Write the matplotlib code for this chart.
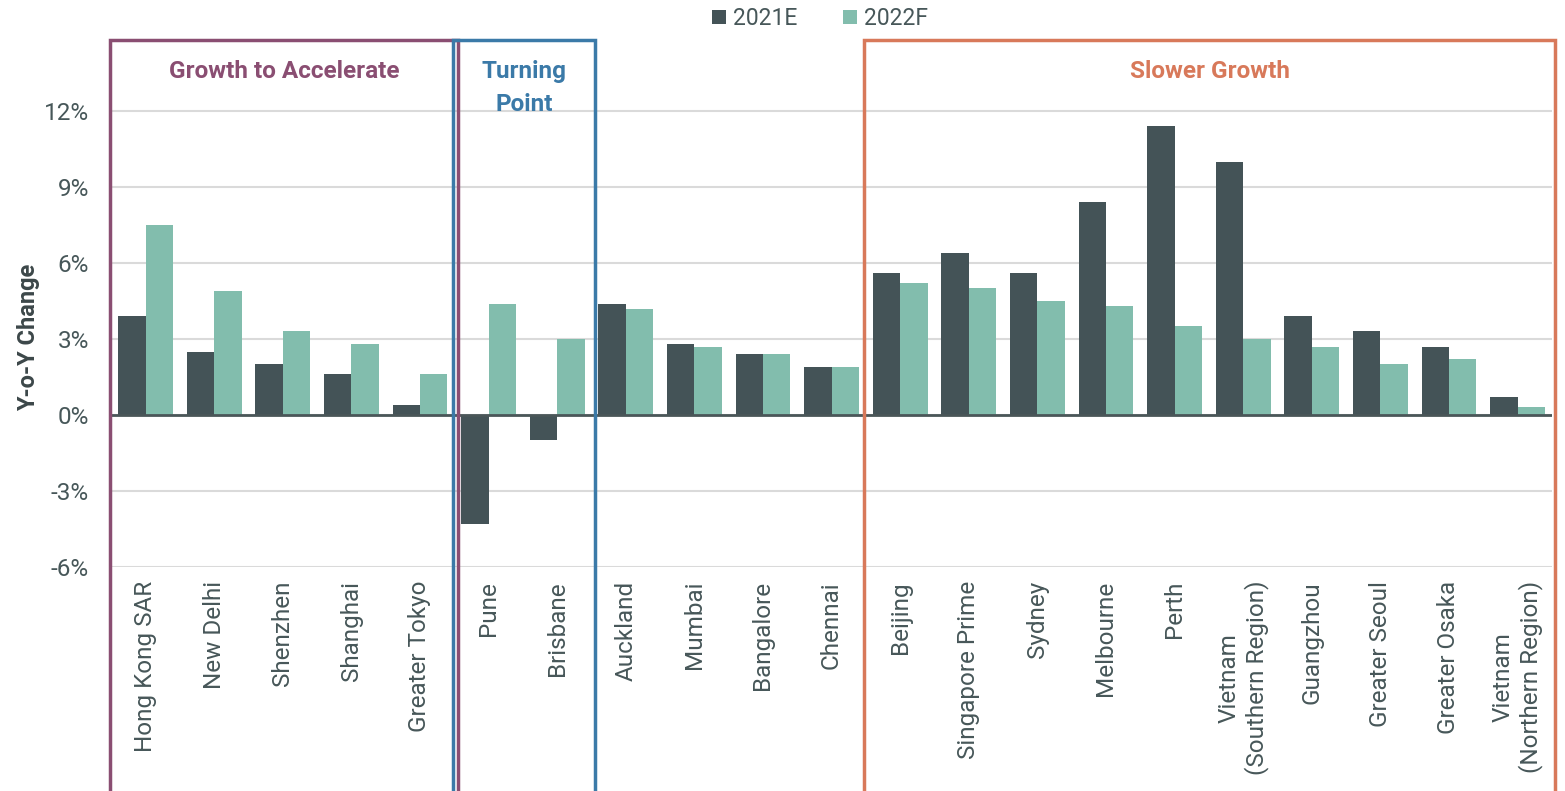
import numpy as np
import matplotlib.pyplot as plt
from matplotlib.patches import Rectangle
from matplotlib.transforms import blended_transform_factory

plt.rcParams['font.family'] = ['Roboto', 'DejaVu Sans']

markets = ["Hong Kong SAR", "New Delhi", "Shenzhen", "Shanghai", "Greater Tokyo",
           "Pune", "Brisbane",
           "Auckland", "Mumbai", "Bangalore", "Chennai",
           "Beijing", "Singapore Prime", "Sydney", "Melbourne", "Perth",
           "Vietnam\n(Southern Region)", "Guangzhou", "Greater Seoul",
           "Greater Osaka", "Vietnam\n(Northern Region)"]
y2021e = [3.9, 2.5, 2.0, 1.6, 0.4,
          -4.3, -1.0,
          4.4, 2.8, 2.4, 1.9,
          5.6, 6.4, 5.6, 8.4, 11.4, 10.0, 3.9, 3.3, 2.7, 0.7]
y2022f = [7.5, 4.9, 3.3, 2.8, 1.6,
          4.4, 3.0,
          4.2, 2.7, 2.4, 1.9,
          5.2, 5.0, 4.5, 4.3, 3.5, 3.0, 2.7, 2.0, 2.2, 0.3]
series = ["2021E", "2022F"]

# groups: (title, first index, last index, colour)
groups = [("Growth to Accelerate", 0, 4, "#8A4E72"),
          ("Turning\nPoint", 5, 6, "#3B7AA8"),
          ("Slower Growth", 11, 20, "#D8795A")]

dark = "#445357"
light = "#82BDAD"
txt = "#475759"

fig = plt.figure(figsize=(15.65, 7.91), dpi=100)
ax = fig.add_axes([0.0711, 0.2832, 0.9205, 0.6662])

x = np.arange(len(markets))
w = 0.4
ax.bar(x - w / 2, y2021e, w, color=dark, label=series[0], zorder=3)
ax.bar(x + w / 2, y2022f, w, color=light, label=series[1], zorder=3)

ax.set_xlim(-0.5, len(markets) - 0.5)
ax.set_ylim(-6, 14.8)
ax.set_yticks([-6, -3, 0, 3, 6, 9, 12])
ax.set_yticklabels([f"{v}%" for v in [-6, -3, 0, 3, 6, 9, 12]])
ax.set_xticks(x)
ax.set_xticklabels(markets, rotation=90, ha="center", va="top", multialignment="center")
ax.tick_params(axis="both", length=0, labelsize=17.5, colors=txt)
ax.tick_params(axis="y", pad=16)
ax.tick_params(axis="x", pad=10)

ax.grid(axis="y", color="#DADADA", linewidth=1.5, zorder=0)
ax.axhline(0, color="#4A5658", linewidth=2, zorder=4)
for s in ax.spines.values():
    s.set_visible(False)

fig.text(0.018, 0.574, "Y-o-Y Change", rotation=90, ha="center", va="center",
         fontsize=17, fontweight="bold", color="#3C4749")

# bracket boxes around groups, running off the bottom of the figure
tr = blended_transform_factory(ax.transData, ax.transAxes)
for title, i0, i1, col in groups:
    left = i0 - 0.52
    right = i1 + 0.55
    ax.add_patch(Rectangle((left, -0.6), right - left, 1.6, transform=tr,
                           fill=False, edgecolor=col, linewidth=2.5,
                           clip_on=False, zorder=5))
    ax.text((left + right) / 2, 0.962, title, transform=tr, ha="center", va="top",
            fontsize=17.5, fontweight="bold", color=col, linespacing=1.55)

fig.legend(loc="upper center", bbox_to_anchor=(0.524, 1.017), ncol=2, frameon=False,
           fontsize=16.5, handlelength=0.6, handleheight=0.6, handletextpad=0.3,
           columnspacing=2.0, labelcolor=txt)

fig.savefig("out.png", dpi=100)
